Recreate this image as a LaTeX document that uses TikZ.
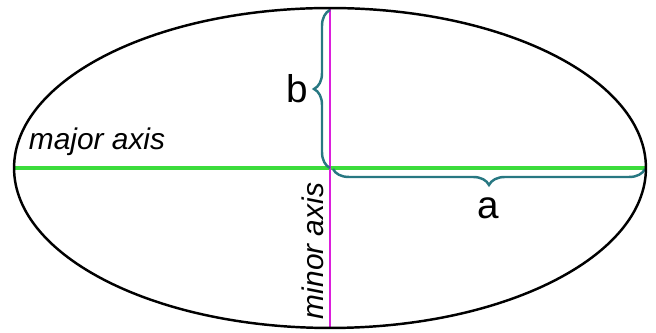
\documentclass[tikz,border=0pt]{standalone}
\usepackage{fontspec}
\setmainfont{Liberation Sans}
\usepackage{xcolor}
\usetikzlibrary{positioning,arrows.meta,decorations.pathreplacing}
\definecolor{axisgreen}{RGB}{60,220,60}
\definecolor{axismagenta}{RGB}{220,30,220}
\definecolor{braceteal}{RGB}{40,120,130}

\begin{document}
\begin{tikzpicture}[
  x=0.02cm, y=-0.02cm,
  axislabel/.style={font=\fontsize{17}{20}\selectfont\itshape, inner sep=0pt},
  bracelabel/.style={font=\fontsize{22}{26}\selectfont, inner sep=0pt},
  halfbrace/.style={draw=braceteal, line width=1.4pt,
    decorate, decoration={brace, amplitude=0.32cm}}
]
\useasboundingbox (0,0) rectangle (656,333);

\coordinate (c) at (330,168);
\coordinate (top) at (330,8);
\coordinate (bot) at (330,328);
\coordinate (west) at (14,168);
\coordinate (east) at (646,168);

\draw[axisgreen, line width=2.2pt] (west) -- (east);
\draw[axismagenta, line width=1.3pt] (top) -- (bot);

\draw[halfbrace] (c) -- (330,10);
\draw[halfbrace] (645,169) -- (333,169);

\draw[black, line width=1.4pt] (c) ellipse [x radius=6.32cm, y radius=3.2cm];

\node[axislabel] (major) at (97,142) {major axis};
\node[axislabel, rotate=90] (minor) at (313,251) {minor axis};

\node[bracelabel] (b) at (297,89) {b};
\node[bracelabel] (a) at (488,208) {a};

\end{tikzpicture}
\end{document}
